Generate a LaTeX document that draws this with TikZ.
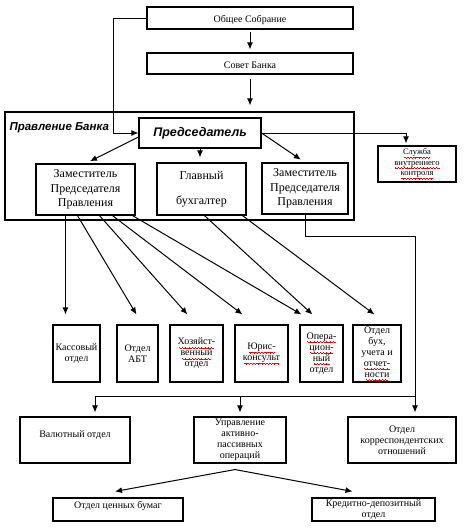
\documentclass[tikz,border=0pt]{standalone}
\usepackage{fontspec}
\setmainfont{Liberation Serif}
\newfontfamily\arialfont{Liberation Sans}
\usetikzlibrary{arrows.meta,calc}
\newcommand{\wavebit}{\rule[-2.6pt]{0.8pt}{0.5pt}\rule[-3.1pt]{0.8pt}{0.5pt}\rule[-3.6pt]{0.8pt}{0.5pt}\rule[-3.1pt]{0.8pt}{0.5pt}}
\newcommand{\spell}[1]{\setbox0\hbox{#1}\leavevmode\rlap{\textcolor{red}{\hbox to\wd0{\cleaders\hbox{\wavebit}\hfill}}}\box0}
\tikzset{
	box/.style={draw, line width=1.1pt, inner sep=1pt, align=center},
	sz/.style 2 args={minimum width=#1pt, minimum height=#2pt},
	toptxt/.style={font=\fontsize{10}{12}\selectfont},
	zamtxt/.style={font=\fontsize{12}{14.5}\selectfont},
	otdtxt/.style={font=\fontsize{10}{11}\selectfont},
	slutxt/.style={font=\fontsize{8.5}{10.5}\selectfont},
	boldsans/.style={font=\arialfont\fontsize{#1}{15}\selectfont\bfseries\itshape}
}
\begin{document}
\begin{tikzpicture}[x=1pt, y=-1pt, >={Latex[length=7pt,width=6pt]}, line width=1pt]
	\useasboundingbox (0,0) rectangle (470,531);
	\node[box, toptxt, sz={206}{22}, text height=11pt, text depth=2pt] (sobr) at (250,18) {Общее Собрание};
	\node[box, toptxt, sz={206}{21}, text height=11pt, text depth=2pt] (sovet) at (250,63.5) {Совет Банка};
	\node[box, sz={349}{108}] (prav) at (179.5,166) {};
	\node[boldsans=11.5, anchor=west, inner sep=0pt] (pravlbl) at (9,128) {Правление Банка};
	\node[box, boldsans=12.5, sz={122}{30}] (pred) at (200,133) {Председатель};
	\node[box, zamtxt, sz={99}{51}] (zam1) at (85.5,189.5) {Заместитель\\Председателя\\Правления};
	\node[box, zamtxt, sz={89}{52}] (glav) at (201.5,189) {Главный\\[10.5pt]бухгалтер};
	\node[box, zamtxt, sz={86}{51}] (zam2) at (305,188.5) {Заместитель\\Председателя\\Правления};
	\node[box, slutxt, sz={78}{36}] (slu) at (417,164) {\spell{Служба}\\\spell{внутреннего}\\\spell{контроля}};

	\node[box, otdtxt, sz={47}{57}] (kas) at (76.5,353.5) {Кассовый\\отдел};
	\node[box, otdtxt, sz={41}{57}] (abt) at (137.5,353.5) {Отдел\\АБТ};
	\node[box, otdtxt, sz={53}{57}] (hoz) at (196.5,353.5) {\spell{Хозяйст-}\\\spell{венный}\\отдел};
	\node[box, otdtxt, sz={53}{57}] (yur) at (261.5,353.5) {\spell{Юрис-}\\\spell{консульт}};
	\node[box, otdtxt, sz={43}{57}] (oper) at (321.5,353.5) {\spell{Опера-}\\\spell{цион-}\\\spell{ный}\\отдел};
	\node[box, otdtxt, sz={48}{57}] (buh) at (377,353.5) {Отдел\\бух,\\учета и\\\spell{отчет-}\\\spell{ности}};

	\node[box, toptxt, sz={110}{46}, text height=7pt, text depth=12pt] (val) at (75,440) {Валютный отдел};
	\node[box, otdtxt, sz={92}{46}] (upr) at (240,440) {Управление\\активно-\\пассивных\\операций};
	\node[box, otdtxt, sz={108}{46}] (corr) at (402,440) {Отдел\\корреспондентских\\отношений};
	\node[box, toptxt, sz={130}{23}, text height=7pt, text depth=10pt] (cb) at (118,509.5) {Отдел ценных бумаг};
	\node[box, otdtxt, sz={123}{23}] (kd) at (373.5,509.5) {Кредитно-депозитный\\отдел};

	\draw[->] (sobr.west) -- ++(-33,0) |- (pred.west);
	\draw[->, shorten <=2pt, shorten >=3pt] (sobr) -- (sovet);
	\draw[->, shorten <=4pt, shorten >=6pt] (sovet.south) -- (sovet.south |- prav.north);
	\draw[->, shorten >=2pt] (pred.east) -| ([xshift=-11pt]slu.north);
	\draw[->, shorten >=5pt] ([yshift=-4pt]pred.west) -- (zam1.north);
	\draw[->, shorten >=5pt] (pred.south) -- (pred.south |- glav.north);
	\draw[->, shorten >=5pt] (pred.east) -- (zam2.north);
	\foreach \dx/\tgt/\tx in {30/kas/13, 42/abt/20, 64/hoz/18, 77/yur/8, 97/oper/2}
		\draw[->] ($(zam1.south west)+(\dx,0)$) -- ($(\tgt.north west)+(\tx,-10)$);
	\foreach \dx/\tgt/\tx in {48/oper/13, 86/buh/22}
		\draw[->] ($(glav.south west)+(\dx,0)$) -- ($(\tgt.north west)+(\tx,-10)$);

	\coordinate (jn) at ($(corr.north)+(13,-20)$);
	\draw[->, shorten >=4pt] (zam2.south) -- ++(0,22) -| ($(corr.north)+(13,0)$);
	\draw[->, shorten >=4pt] (jn) -| ($(val.north)+(20,0)$);
	\draw[->, shorten >=4pt] (upr.north |- jn) -- (upr.north);
	\draw[->] ($(upr.south)+(-5,6)$) -- ($(cb.north)+(-3,-6)$);
	\draw[->] ($(upr.south)+(-5,6)$) -- ($(kd.north)+(-21,-6)$);
\end{tikzpicture}
\end{document}
